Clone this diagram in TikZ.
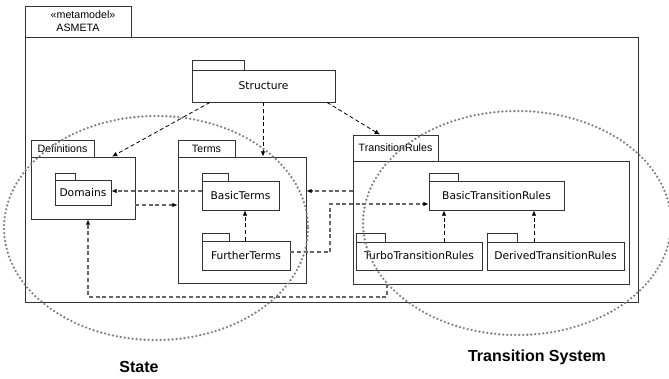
\documentclass[tikz,border=0pt]{standalone}
\usepackage{fontspec}
\newfontfamily\dvfont{DejaVu Sans}
\newfontfamily\lsfont{Liberation Sans}
\usetikzlibrary{arrows.meta,fit}
\begin{document}
\begin{tikzpicture}[x=0.75pt,y=-0.75pt,
  pkg/.style={draw=black!80, line width=0.6pt, inner sep=0pt, fill=white},
  bodytext/.style={font=\dvfont\fontsize{8}{9.6}\selectfont, inner sep=0pt},
  tabtext/.style={font=\lsfont\fontsize{8}{9.6}\selectfont, inner sep=0pt},
  dep/.style={draw=black, line width=0.6pt, dash pattern=on 3pt off 2pt, -{Latex[length=4pt,width=3.5pt]}},
  depg/.style={draw=black!60, line width=0.9pt, dash pattern=on 3pt off 2pt, -{Latex[length=4pt,width=3.5pt,color=black]}},
  dots/.style={draw=black!50, line width=1.9pt, line cap=round, dash pattern=on 0pt off 3pt},
  region/.style={font=\lsfont\bfseries\fontsize{12}{14}\selectfont, inner sep=0pt}]
\useasboundingbox (0,0) rectangle (669,379);

% outer package ASMETA
\node[pkg, fit={(25,6)(131,37)}] (asmetatab) {};
\node[pkg, fit={(25,37)(638,302)}] (asmeta) {};
\node[tabtext] (stereo) at (83,15) {«metamodel»};
\node[tabtext] (asmetalbl) at (78,28) {ASMETA};

% Structure
\node[pkg, fit={(192,60)(244,70)}] (structtab) {};
\node[pkg, fit={(192,70)(335,102)}] (struct) {};
\node[bodytext] at (struct.center) {Structure};

% Definitions
\node[pkg, fit={(31,140)(94,157)}] (deftab) {};
\node[pkg, fit={(31,157)(135,219)}] (defs) {};
\node[tabtext] at (deftab.center) {Definitions};
\node[pkg, fit={(55,173)(75,180)}] (domtab) {};
\node[pkg, fit={(55,180)(111,205)}] (dom) {};
\node[bodytext] at (dom.center) {Domains};

% Terms
\node[pkg, fit={(178,140)(235,157)}] (termstab) {};
\node[pkg, fit={(178,157)(306,283)}] (terms) {};
\node[tabtext] at (termstab.center) {Terms};
\node[pkg, fit={(202,173)(228,181)}] (bttab) {};
\node[pkg, fit={(202,181)(279,210)}] (bt) {};
\node[bodytext] at (bt.center) {BasicTerms};
\node[pkg, fit={(202,233)(229,241)}] (fttab) {};
\node[pkg, fit={(202,241)(290,270)}] (ft) {};
\node[bodytext] at (ft.center) {FurtherTerms};

% TransitionRules
\node[pkg, fit={(353,135)(438,161)}] (trtab) {};
\node[pkg, fit={(353,161)(629,284)}] (tr) {};
\node[tabtext] at (trtab.center) {TransitionRules};
\node[pkg, fit={(429,173)(458,181)}] (btrtab) {};
\node[pkg, fit={(429,181)(564,210)}] (btr) {};
\node[bodytext] at (btr.center) {BasicTransitionRules};
\node[pkg, fit={(356,233)(385,242)}] (ttrtab) {};
\node[pkg, fit={(356,242)(482,270)}] (ttr) {};
\node[bodytext] at (ttr.center) {TurboTransitionRules};
\node[pkg, fit={(487,233)(517,242)}] (dtrtab) {};
\node[pkg, fit={(487,242)(624,270)}] (dtr) {};
\node[bodytext] at (dtr.center) {DerivedTransitionRules};

% dependencies from Structure
\draw[dep] (struct.south west -| 210,0) -- (defs.north east -| 112,0);
\draw[dep] (struct.south -| 263,0) -- (terms.north -| 263,0);
\draw[dep] (struct.south -| 327,0) -- (trtab.north -| 380,0);

% inner dependencies
\draw[depg] (bt.west |- 0,191) -- (dom.east |- 0,191);
\draw[depg] (defs.east |- 0,205) -- (terms.west |- 0,205);
\draw[depg] (tr.west |- 0,191) -- (terms.east |- 0,191);
\draw[depg] (ft.east |- 0,252) -| (330,204) -- (btr.west |- 0,204);
\draw[dep] (ft.north -| 245,0) -- (bt.south -| 245,0);
\draw[dep] (ttr.north -| 444,0) -- (btr.south -| 444,0);
\draw[dep] (dtr.north -| 534,0) -- (btr.south -| 534,0);
\draw[depg] (tr.south -| 387,0) -- (387,297) -| (defs.south -| 88,0);

% regions
\draw[dots] (156,228) ellipse [x radius=152, y radius=112];
\draw[dots] (517,223) ellipse [x radius=154, y radius=112];
\node[region] (state) at (139,367) {State};
\node[region] (ts) at (537,357) {Transition System};
\end{tikzpicture}
\end{document}
